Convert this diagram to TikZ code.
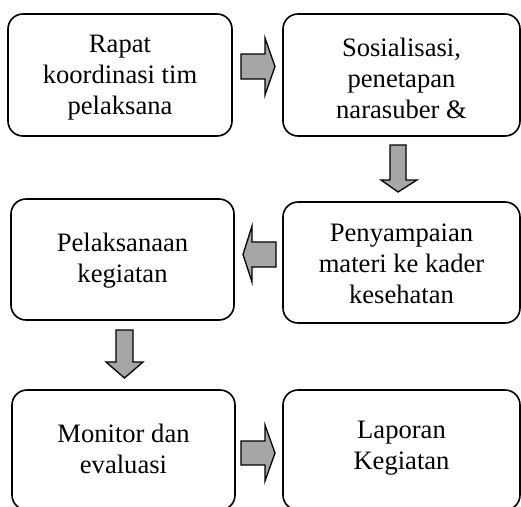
\documentclass[tikz,border=0pt]{standalone}
\usepackage{fontspec}
\setmainfont{Liberation Serif}
\usetikzlibrary{calc}
\definecolor{arrowgray}{HTML}{A6A6A6}
\tikzset{
  box/.style={draw=black, line width=1.6pt, rounded corners=15pt, rectangle, inner sep=0pt},
  txt/.style={font=\fontsize{26.6}{31}\selectfont, align=center, inner sep=0pt},
  blockarrow/.style={draw=black, fill=arrowgray, line width=1.3pt, line join=miter}
}
\begin{document}
\begin{tikzpicture}[x=1pt,y=-1pt]
\useasboundingbox (0,0) rectangle (521,506);
% boxes
\node[box, minimum width=224pt, minimum height=122pt] (b1) at (120,75) {};
\node[box, minimum width=237pt, minimum height=122pt] (b2) at (401.5,75) {};
\node[box, minimum width=223pt, minimum height=121pt] (b3) at (122.5,259.5) {};
\node[box, minimum width=237pt, minimum height=121pt] (b4) at (401.5,262.5) {};
\node[box, minimum width=223pt, minimum height=120pt] (b5) at (123.5,450) {};
\node[box, minimum width=237pt, minimum height=120pt] (b6) at (401.5,450) {};
% texts
\node[txt] (t1) at ([yshift=-3pt]b1.center) {Rapat\\koordinasi tim\\pelaksana};
\node[txt] (t2) at ([yshift=-3pt]b2.center) {Sosialisasi,\\penetapan\\narasuber \&};
\node[txt] (t3) at ([yshift=-1pt]b3.center) {Pelaksanaan\\kegiatan};
\node[txt] (t4) at ([yshift=-1pt]b4.center) {Penyampaian\\materi ke kader\\kesehatan};
\node[txt] (t5) at ([yshift=1.5pt]b5.center) {Monitor dan\\evaluasi};
\node[txt] (t6) at ([yshift=1.5pt]b6.center) {Laporan\\Kegiatan};
% block arrows
% b1 -> b2
\draw[blockarrow] (241,54) -- (265,54) -- (265,38) -- (275,66.5) -- (265,95) -- (265,79) -- (241,79) -- cycle;
% b2 -> b4
\draw[blockarrow] (390,145) -- (406,145) -- (406,180) -- (417,180) -- (398,192) -- (381,180) -- (390,180) -- cycle;
% b4 -> b3
\draw[blockarrow] (276,242) -- (252,242) -- (252,226) -- (243,254.5) -- (252,282) -- (252,267) -- (276,267) -- cycle;
% b3 -> b5
\draw[blockarrow] (116,330) -- (133,330) -- (133,362) -- (143,362) -- (124.5,378) -- (106,362) -- (116,362) -- cycle;
% b5 -> b6
\draw[blockarrow] (241,441) -- (265,441) -- (265,425) -- (275,453) -- (265,481) -- (265,465) -- (241,465) -- cycle;
\end{tikzpicture}
\end{document}
